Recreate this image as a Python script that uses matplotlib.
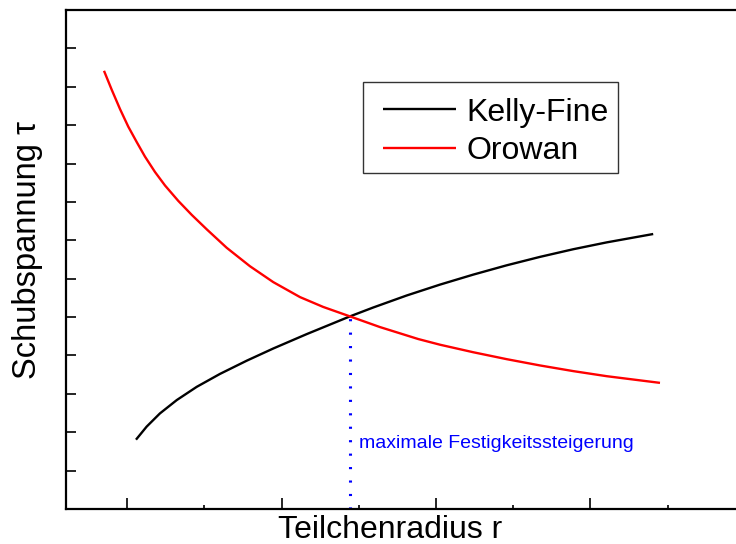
import matplotlib
matplotlib.use('Agg')
import matplotlib.pyplot as plt
from matplotlib.patches import Rectangle
from matplotlib.ticker import MultipleLocator, NullFormatter

plt.rcParams['font.family'] = ['Liberation Sans', 'DejaVu Sans']

# Orowan: Schubspannung faellt mit wachsendem Teilchenradius
orowan_r = [0.851, 0.901, 0.955, 1.008, 1.063, 1.116, 1.181, 1.246, 1.332, 1.419,
            1.516, 1.645, 1.796, 1.947, 2.120, 2.270, 2.443, 2.637, 2.885, 3.026,
            3.241, 3.457, 3.673, 3.889, 4.105, 4.450]
orowan_tau = [6.208, 5.961, 5.708, 5.481, 5.279, 5.091, 4.890, 4.714, 4.513, 4.331,
              4.143, 3.903, 3.662, 3.455, 3.260, 3.132, 3.009, 2.870, 2.714, 2.640,
              2.542, 2.452, 2.370, 2.296, 2.230, 2.143]

# Kelly-Fine: Schneiden der Teilchen, Spannung steigt mit dem Radius
kelly_r = [1.058, 1.127, 1.213, 1.322, 1.451, 1.602, 1.775, 1.947, 2.163, 2.443,
           2.594, 2.810, 3.026, 3.241, 3.457, 3.673, 3.889, 4.105, 4.406]
kelly_tau = [1.403, 1.573, 1.745, 1.919, 2.091, 2.260, 2.432, 2.591, 2.778, 3.009,
             3.125, 3.281, 3.423, 3.553, 3.674, 3.784, 3.884, 3.973, 4.082]

# Schnittpunkt = maximale Festigkeitssteigerung
r_max = 2.443
tau_max = 3.009

fig = plt.figure(figsize=(7.36, 5.44), dpi=100)
ax = fig.add_axes([66 / 736, 1 - 509 / 544, 670 / 736, 499 / 544])

ax.plot(kelly_r, kelly_tau, color='black', lw=1.7, label='Kelly-Fine',
        solid_joinstyle='round', solid_capstyle='butt')
ax.plot(orowan_r, orowan_tau, color='red', lw=1.7, label='Orowan',
        solid_joinstyle='round', solid_capstyle='butt')

ax.set_xlim(0.605, 4.942)
ax.set_ylim(0.5, 7.0)
ax.vlines(r_max, 0.5, tau_max, colors='blue', lw=2.2, linestyles=(0, (0.7, 3.7)))
ax.text(r_max + 0.06, 1.35, 'maximale Festigkeitssteigerung', color='blue',
        fontsize=14, ha='left', va='center')

ax.spines['right'].set_visible(False)
for s in ['left', 'bottom', 'top']:
    ax.spines[s].set_linewidth(1.6)

ax.xaxis.set_major_locator(MultipleLocator(1))
ax.xaxis.set_minor_locator(MultipleLocator(0.5))
ax.yaxis.set_major_locator(MultipleLocator(0.5))
ax.xaxis.set_major_formatter(NullFormatter())
ax.yaxis.set_major_formatter(NullFormatter())
ax.tick_params(axis='x', which='major', direction='in', length=8, width=1.2, top=False)
ax.tick_params(axis='x', which='minor', direction='in', length=3, width=1.2, top=False)
ax.tick_params(axis='y', which='major', direction='in', length=7.5, width=1.2, right=False)

ax.set_xlabel('Teilchenradius r', fontsize=23)
ax.set_ylabel('Schubspannung τ', fontsize=23.5)
ax.xaxis.set_label_coords(0.4836, -0.012)
ax.yaxis.set_label_coords(-0.035, 0.52)

# Legende ohne eigenen Rahmen, Rahmen separat gezeichnet
leg = ax.legend(loc='upper left', bbox_to_anchor=(383 / 736, 1 - 97.6 / 544),
                bbox_transform=fig.transFigure, fontsize=23, frameon=False,
                borderpad=0, handlelength=2.3, handletextpad=0.3,
                labelspacing=0.26, borderaxespad=0)
fig.patches.append(Rectangle((363 / 736, 1 - 173 / 544), 255 / 736, 91 / 544,
                             transform=fig.transFigure, fill=False,
                             edgecolor='#333333', lw=1.0))

fig.savefig('out.png', dpi=100)
